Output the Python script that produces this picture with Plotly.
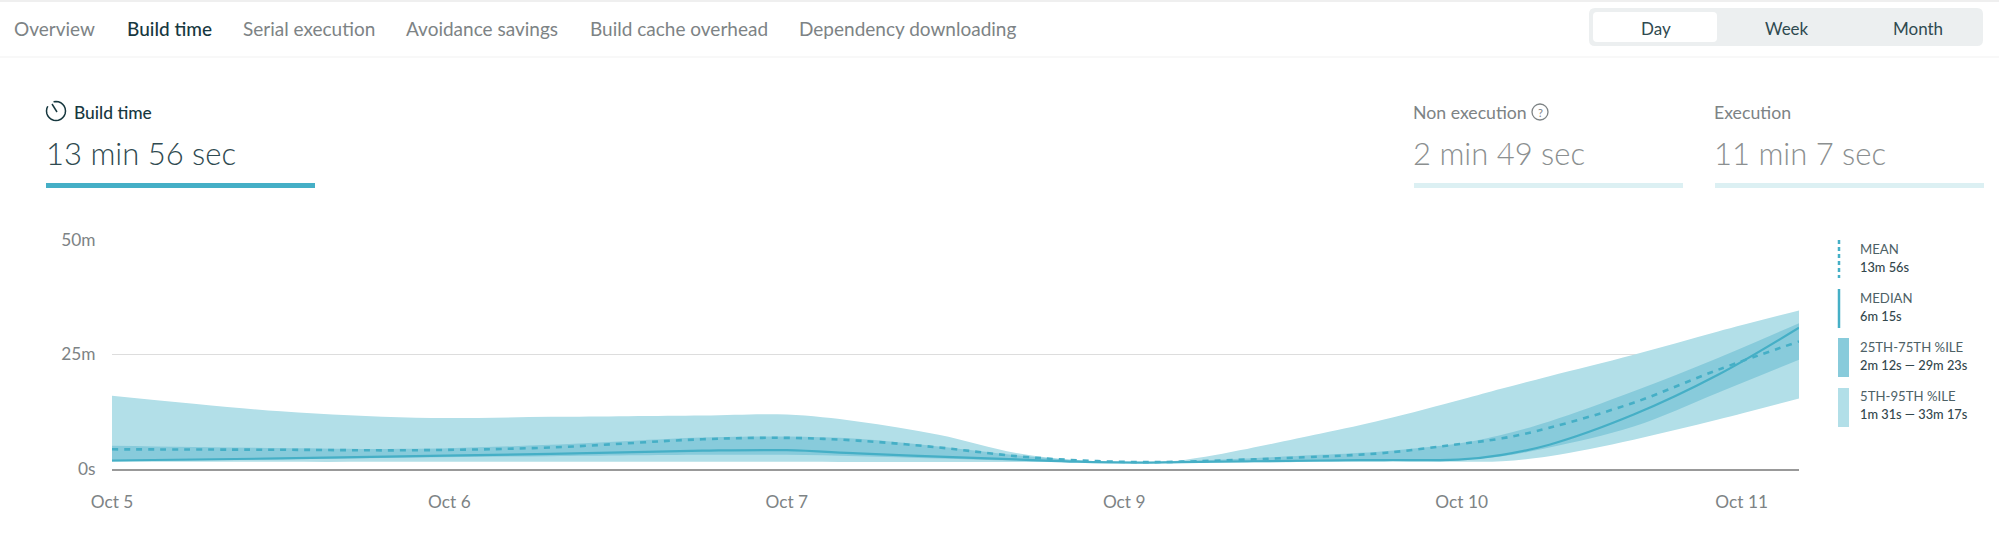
import math

import plotly.graph_objects as go

W = 1999
H = 546

# chart values, minutes
days = [0, 0.5, 0.9, 1.3, 1.75, 2, 2.21, 2.45, 2.68, 2.86, 3.04, 3.17, 3.58, 3.77, 4, 4.12, 4.26, 4.51, 4.76, 5]
p95 = [15.9, 12.5, 11.1, 11.3, 11.6, 11.8, 10.3, 7.4, 3.4, 1.8, 1.5, 1.8, 7.6, 10.7, 15.1, 17.5, 20.2, 24.9, 30, 34.6]
p75 = [5, 4.5, 4.3, 5.2, 6.8, 7, 6.5, 4.8, 2.9, 1.8, 1.4, 1.6, 3, 3.8, 5.6, 7.4, 10.3, 16.9, 24.2, 31.8]
p25 = [1.6, 2, 2.4, 2.7, 3, 3, 2.7, 2.2, 1.7, 1.4, 1.3, 1.35, 1.6, 1.7, 2, 2.7, 4.6, 9.2, 16.6, 23.8]
p5 = [1.5, 1.45, 1.45, 1.45, 1.45, 1.45, 1.4, 1.4, 1.4, 1.3, 1.2, 1.25, 1.4, 1.45, 1.45, 1.6, 2.7, 6.3, 10.7, 15.3]
median = [1.75, 2.2, 2.7, 3.2, 3.9, 4, 3.3, 2.6, 2, 1.5, 1.3, 1.4, 1.75, 1.85, 2, 3, 5.2, 11.8, 20.5, 30.8]
mean = [4.2, 4.1, 4, 4.6, 6.4, 6.7, 6.1, 4.6, 2.7, 1.8, 1.4, 1.5, 2.6, 3.4, 5.4, 6.6, 8.9, 14.4, 21.6, 27.8]

x_tick_vals = [0, 1, 2, 3, 4, 4.83]
x_tick_text = ['Oct 5', 'Oct 6', 'Oct 7', 'Oct 9', 'Oct 10', 'Oct 11']
y_tick_vals = [0, 25, 50]
y_tick_text = ['0s', '25m', '50m']

nav_items = ['Overview', 'Build time', 'Serial execution', 'Avoidance savings',
             'Build cache overhead', 'Dependency downloading']
range_items = ['Day', 'Week', 'Month']

TEAL = '#45afc6'
BAND_OUTER = '#b2dfe8'
BAND_INNER = '#88cbdb'
DARK = '#17383f'
GREY = '#7d8385'


def px(x):
    return x / W


def py(y):
    return 1 - y / H


annotations = []
shapes = []


def label(x, y, text, size=17, color=GREY, anchor='left', weight=400):
    annotations.append(dict(
        x=px(x), y=py(y), xref='paper', yref='paper', text=text, showarrow=False,
        xanchor=anchor, yanchor='middle', borderpad=0,
        font=dict(family='Lato', size=size, color=color, weight=weight)))


def rect(x0, y0, x1, y1, color):
    shapes.append(dict(type='rect', xref='paper', yref='paper', x0=px(x0), x1=px(x1),
                       y0=py(y0), y1=py(y1), fillcolor=color, line_width=0, layer='below'))


def round_rect(x0, y0, x1, y1, r, color):
    path = (f'M {px(x0 + r)} {py(y0)} L {px(x1 - r)} {py(y0)} Q {px(x1)} {py(y0)} {px(x1)} {py(y0 + r)} '
            f'L {px(x1)} {py(y1 - r)} Q {px(x1)} {py(y1)} {px(x1 - r)} {py(y1)} '
            f'L {px(x0 + r)} {py(y1)} Q {px(x0)} {py(y1)} {px(x0)} {py(y1 - r)} '
            f'L {px(x0)} {py(y0 + r)} Q {px(x0)} {py(y0)} {px(x0 + r)} {py(y0)} Z')
    shapes.append(dict(type='path', xref='paper', yref='paper', path=path,
                       fillcolor=color, line_width=0, layer='below'))


def circle(cx, cy, r, color):
    shapes.append(dict(type='circle', xref='paper', yref='paper', x0=px(cx - r), x1=px(cx + r),
                       y0=py(cy - r), y1=py(cy + r), line=dict(color=color, width=1.3)))


def vline(x, y0, y1, color, width, dash='solid'):
    shapes.append(dict(type='line', xref='paper', yref='paper', x0=px(x), x1=px(x),
                       y0=py(y0), y1=py(y1), line=dict(color=color, width=width, dash=dash)))


def stopwatch(cx, cy, r, color):
    # open ring with a gap at the upper left, then the hand
    pts = []
    for deg in range(-15, 305, 15):
        a = math.radians(deg)
        pts.append((cx + r * math.sin(a), cy - r * math.cos(a)))
    path = 'M ' + ' L '.join(f'{px(x)} {py(y)}' for x, y in pts)
    shapes.append(dict(type='path', xref='paper', yref='paper', path=path,
                       line=dict(color=color, width=1.5)))
    shapes.append(dict(type='line', xref='paper', yref='paper', x0=px(cx + 1), x1=px(cx - 4),
                       y0=py(cy + 1), y1=py(cy - 7), line=dict(color=color, width=1.5)))


# top nav
rect(0, 0, W, 2, '#efefef')
rect(0, 56, W, 58, '#f8f8f8')
for text, x in zip(nav_items, [13, 126, 242, 405, 589, 798]):
    active = text == 'Build time'
    label(x, 28, text, size=19, color=DARK if active else GREY, weight=500 if active else 400)

# day / week / month switch
round_rect(1589, 8, 1983, 46, 6, '#eceff0')
round_rect(1593, 12, 1717, 42, 4, '#ffffff')
for text, x in zip(range_items, [1656, 1787, 1918]):
    label(x, 28, text, size=17, color='#2f4a50', anchor='center')

# stat headers
stopwatch(56, 111, 9.5, DARK)
label(73, 113, 'Build time', size=17.4, color=DARK, weight=500)
label(45, 153, '13 min 56 sec', size=31, color='#2f4a50', weight=300)
rect(46, 183, 315, 188, TEAL)

label(1412, 113, 'Non execution', size=17.7)
circle(1540, 112, 8, GREY)
label(1540, 113, '?', size=11, anchor='center')
label(1412, 153, '2 min 49 sec', size=31, color='#8b8f90', weight=300)
rect(1414, 183, 1683, 188, '#dcf0f3')

label(1713, 113, 'Execution', size=17.7)
label(1713, 153, '11 min 7 sec', size=31, color='#8b8f90', weight=300)
rect(1715, 183, 1984, 188, '#dcf0f3')

# custom legend
vline(1839, 240, 278, TEAL, 2.5, dash='4px,3px')
vline(1839, 289, 328, TEAL, 2.5)
rect(1838, 338, 1849, 377, BAND_INNER)
rect(1838, 388, 1849, 427, BAND_OUTER)
legend_rows = [('MEAN', '13m 56s', 249, 267), ('MEDIAN', '6m 15s', 298, 316),
               ('25TH-75TH %ILE', '2m 12s — 29m 23s', 347, 365),
               ('5TH-95TH %ILE', '1m 31s — 33m 17s', 396, 414)]
for name, value, y0, y1 in legend_rows:
    label(1859, y0, name, size=13.2, color='#4d6166')
    label(1859, y1, value, size=12.8, color='#33474d', weight=500)

fig = go.Figure()

fig.add_trace(go.Scatter(x=days, y=p5, mode='lines', line=dict(width=0, shape='spline'),
                         hoverinfo='skip', showlegend=False))
fig.add_trace(go.Scatter(x=days, y=p95, mode='lines', line=dict(width=0, shape='spline'),
                         fill='tonexty', fillcolor=BAND_OUTER, name='5th-95th %ile', showlegend=False))
fig.add_trace(go.Scatter(x=days, y=p25, mode='lines', line=dict(width=0, shape='spline'),
                         hoverinfo='skip', showlegend=False))
fig.add_trace(go.Scatter(x=days, y=p75, mode='lines', line=dict(width=0, shape='spline'),
                         fill='tonexty', fillcolor=BAND_INNER, name='25th-75th %ile', showlegend=False))
fig.add_trace(go.Scatter(x=days, y=median, mode='lines', line=dict(color=TEAL, width=2.2, shape='spline'),
                         name='Median', showlegend=False))
fig.add_trace(go.Scatter(x=days, y=mean, mode='lines',
                         line=dict(color=TEAL, width=2.6, shape='spline', dash='6px,6px'),
                         name='Mean', showlegend=False))

fig.update_layout(
    width=W,
    height=H,
    margin=dict(l=0, r=0, t=0, b=0, autoexpand=False),
    paper_bgcolor='white',
    plot_bgcolor='white',
    shapes=shapes,
    annotations=annotations,
    font=dict(family='Lato', size=17.3, color=GREY),
    xaxis=dict(
        domain=[px(112), px(1799)], range=[0, 5], tickmode='array', automargin=False,
        tickvals=x_tick_vals, ticktext=x_tick_text, showgrid=False, zeroline=False,
        showline=True, linecolor='#999999', linewidth=2,
        ticks='outside', ticklen=17, tickcolor='rgba(0,0,0,0)',
    ),
    yaxis=dict(
        domain=[py(468.5), py(240)], range=[0, 50], tickmode='array', automargin=False,
        tickvals=y_tick_vals, ticktext=y_tick_text, showgrid=True, gridcolor='#dddddd',
        gridwidth=1, zeroline=False, showline=False,
        ticks='outside', ticklen=12, tickcolor='rgba(0,0,0,0)',
    ),
)

fig.write_html("out.html", config={'displayModeBar': False},
               post_script="document.body.style.margin='0';")
